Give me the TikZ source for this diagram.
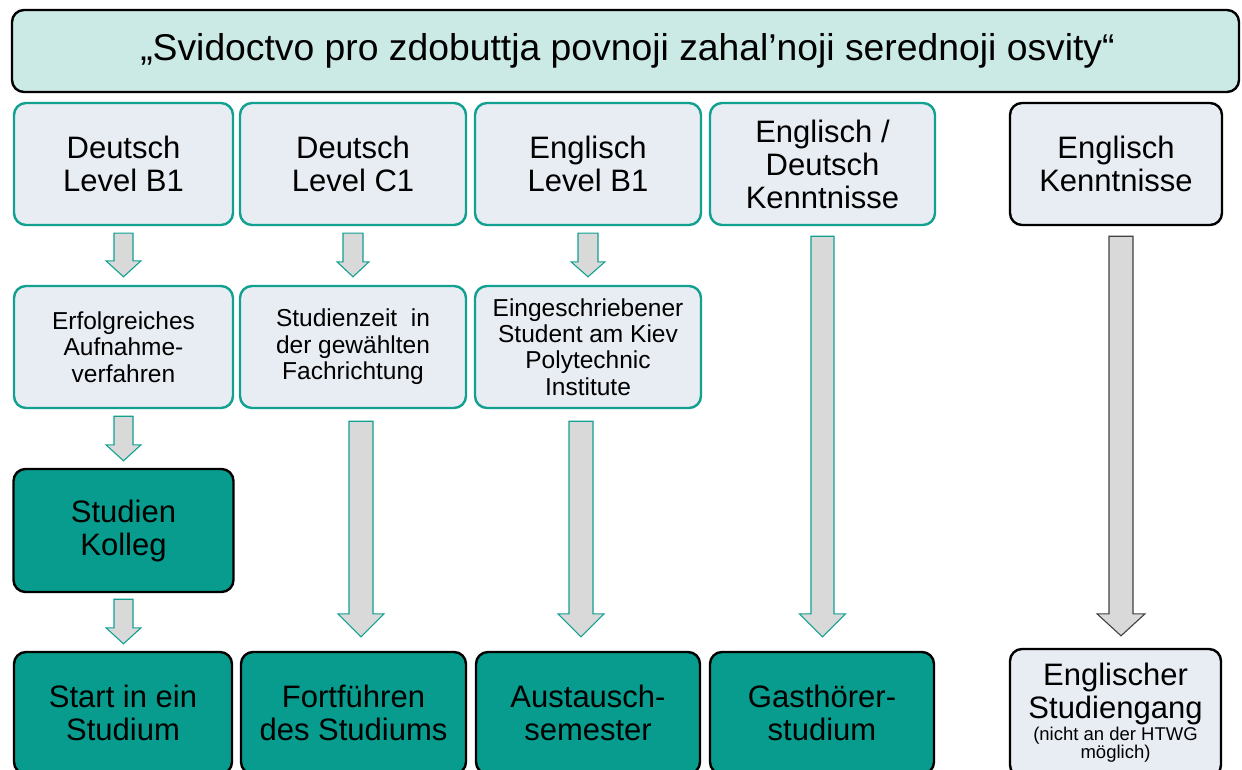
\documentclass[tikz,border=0pt]{standalone}
\usepackage{fontspec}
\setmainfont{Liberation Sans}
\usetikzlibrary{calc}
\definecolor{tealb}{HTML}{12A091}
\definecolor{lightfill}{HTML}{E8ECF3}
\definecolor{bannerfill}{HTML}{CBEAE5}
\definecolor{darkteal}{HTML}{079C8D}
\definecolor{arrfill}{HTML}{D9D9D9}
\definecolor{arrdark}{HTML}{404040}
\tikzset{
  basebox/.style={rounded corners=12pt, align=center, inner sep=0pt, text=black, line width=2.4pt},
  lbox/.style={basebox, draw=tealb, fill=lightfill},
  kbox/.style={basebox, draw=black, fill=lightfill},
  dbox/.style={basebox, draw=black, fill=darkteal},
  bigtxt/.style={font=\fontsize{31}{33}\selectfont},
  smalltxt/.style={font=\fontsize{24.5}{26.4}\selectfont},
  arrt/.style={draw=tealb, fill=arrfill, line width=1.1pt, line join=miter},
  arrd/.style={draw=arrdark, fill=arrfill, line width=1.1pt, line join=miter},
}
% #1 style, #2 from, #3 to, #4 dx, #5 shaft half, #6 head half, #7 head length, #8 top gap, #9 bottom gap
\newcommand\blockarr[9]{%
  \path[#1] let \p1=($(#2.south)+(#4pt,-#8pt)$), \p2=($(#3.north)+(#4pt,#9pt)$) in
    (\x1-#5pt,\y1) -- (\x1+#5pt,\y1) -- (\x1+#5pt,\y2+#7pt) -- (\x1+#6pt,\y2+#7pt)
    -- (\x1,\y2) -- (\x1-#6pt,\y2+#7pt) -- (\x1-#5pt,\y2+#7pt) -- cycle;
}
\begin{document}
\begin{tikzpicture}[x=1pt,y=-1pt]
\useasboundingbox (0,0) rectangle (1242,770);
% banner
\node[basebox, draw=black, fill=bannerfill, minimum width=1227pt, minimum height=82pt,
  font=\fontsize{37.3}{42}\selectfont] (ban) at (625.5,51)
  {\hspace*{4pt}„Svidoctvo pro zdobuttja povnoji zahal’noji serednoji osvity“};
% row 1
\node[lbox, bigtxt, minimum width=219pt, minimum height=122pt] (t1) at (123.5,164) {Deutsch\\Level B1};
\node[lbox, bigtxt, minimum width=226pt, minimum height=122pt] (t2) at (353,164) {Deutsch\\Level C1};
\node[lbox, bigtxt, minimum width=226pt, minimum height=122pt] (t3) at (588,164) {Englisch\\Level B1};
\node[lbox, bigtxt, minimum width=225pt, minimum height=122pt] (t4) at (822.5,164) {Englisch /\\Deutsch\\Kenntnisse};
\node[kbox, bigtxt, minimum width=212pt, minimum height=122pt] (t5) at (1116,164) {Englisch\\Kenntnisse};
% row 2
\node[lbox, smalltxt, minimum width=219pt, minimum height=122pt] (m1) at (123.5,347) {Erfolgreiches\\Aufnahme-\\verfahren};
\node[lbox, smalltxt, minimum width=226pt, minimum height=122pt] (m2) at (353,347) {Studienzeit~ in\\der gewählten\\Fachrichtung};
\node[lbox, smalltxt, minimum width=226pt, minimum height=122pt] (m3) at (588,347) {Eingeschriebener\\Student am Kiev\\Polytechnic\\Institute};
% Studienkolleg
\node[dbox, bigtxt, minimum width=220pt, minimum height=123pt] (k1) at (123.5,530.5) {Studien\\Kolleg};
% bottom row
\node[dbox, bigtxt, minimum width=218pt, minimum height=122pt] (b1) at (123,713) {Start in ein\\Studium};
\node[dbox, bigtxt, minimum width=225pt, minimum height=122pt] (b2) at (353.5,713) {Fortführen\\des Studiums};
\node[dbox, bigtxt, minimum width=224pt, minimum height=122pt] (b3) at (588,713) {Austausch-\\semester};
\node[dbox, bigtxt, minimum width=224pt, minimum height=122pt] (b4) at (822,713) {Gasthörer-\\studium};
\node[kbox, bigtxt, minimum width=211pt, minimum height=128pt] (b5) at (1115.5,713)
  {Englischer\\Studiengang\\[-11pt]{\fontsize{18.5}{19}\selectfont (nicht an der HTWG}\\[-15pt]{\fontsize{18.5}{19}\selectfont möglich)}};
% arrows
\blockarr{arrt}{t1}{m1}{0}{9.5}{17.5}{16}{7}{8}
\blockarr{arrt}{t2}{m2}{0}{10}{16}{15}{7}{8}
\blockarr{arrt}{t3}{m3}{0}{10}{17}{15}{7}{8}
\blockarr{arrt}{m1}{k1}{0}{9.5}{17.5}{16}{7}{7}
\blockarr{arrt}{k1}{b1}{0}{9.5}{17.5}{16}{6}{7}
\blockarr{arrt}{m2}{b2}{8}{12}{23}{23}{12}{14}
\blockarr{arrt}{m3}{b3}{-7}{12}{23}{23}{12}{14}
\blockarr{arrt}{t4}{b4}{0}{11.5}{23}{23}{10}{14}
\blockarr{arrd}{t5}{b5}{5}{12}{24}{22}{10}{12}
\end{tikzpicture}
\end{document}
